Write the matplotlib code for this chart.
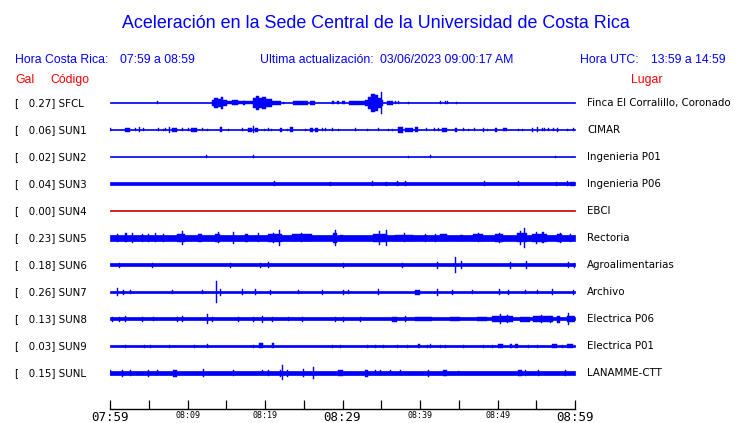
import matplotlib
matplotlib.use("Agg")
import matplotlib.pyplot as plt
import matplotlib.transforms as mtransforms

# station table
codes = ["SFCL", "SUN1", "SUN2", "SUN3", "SUN4", "SUN5",
         "SUN6", "SUN7", "SUN8", "SUN9", "SUNL"]
gal = [0.27, 0.06, 0.02, 0.04, 0.00, 0.23, 0.18, 0.26, 0.13, 0.03, 0.15]
places = ["Finca El Corralillo, Coronado", "CIMAR", "Ingenieria P01",
          "Ingenieria P06", "EBCI", "Rectoria", "Agroalimentarias",
          "Archivo", "Electrica P06", "Electrica P01", "LANAMME-CTT"]

# background noise level of each trace (half width, px-ish units)
base_amp = [0.5, 0.5, 0.5, 1.5, 0.5, 2.8, 1.5, 1.4, 1.5, 0.5, 1.7]

# events: (minute, amp) or (start, end, amp), minutes after 07:59
sfcl = [(6.1, 1.5),
        (13.16, 13.42, 3), (13.42, 13.94, 5), (13.94, 14.32, 4), (14.32, 14.58, 6),
        (14.58, 15.1, 3), (15.1, 18.45, 1.5), (15.74, 16.5, 2.5), (17.16, 17.42, 2),
        (18.45, 18.84, 5), (18.84, 19.23, 7), (19.23, 19.6, 5), (19.6, 20.13, 6),
        (20.13, 20.9, 4), (20.9, 22.06, 2), (22.3, 1),
        (23.6, 24.5, 2), (24.5, 25.5, 2), (25.8, 26.45, 2),
        (28.6, 28.9, 1.5), (29.3, 29.5, 1.5), (29.9, 30.3, 1.5), (30.8, 32.9, 1.7),
        (32.9, 33.3, 3), (33.3, 33.7, 6), (33.7, 34.2, 9), (34.2, 34.6, 8),
        (34.6, 35.0, 5), (35.0, 11), (35.0, 35.2, 3),
        (35.7, 36.5, 2), (36.8, 1.5), (37.2, 1.5), (38.45, 1),
        (42.6, 1.5), (43.2, 1.5), (43.5, 1.5), (44.6, 1)]
sun1 = [(0.0, 1.5), (1.94, 2.58, 2), (3.2, 1.5), (3.74, 2.5), (4.26, 1.5),
        (6.2, 1.5), (6.84, 1), (7.1, 1.5), (7.6, 3), (8.0, 8.65, 2), (9.3, 1.5),
        (10.06, 1.5), (10.45, 11.2, 2), (11.87, 1.5), (12.5, 1), (14.2, 14.45, 2.5),
        (15.2, 1), (17.0, 1.5), (17.8, 18.3, 2), (18.45, 3.5), (18.7, 19.1, 2),
        (19.87, 1), (20.4, 1.5), (20.8, 1), (21.9, 22.2, 2), (22.8, 1),
        (23.2, 23.6, 2.5), (25.2, 1), (25.8, 26.2, 2), (26.45, 26.84, 2),
        (27.35, 1.5), (27.7, 1.5), (28.65, 1.5), (29.4, 1), (31.6, 1.5),
        (33.2, 1), (34.6, 1.5), (35.9, 1), (36.4, 1), (37.2, 37.8, 3),
        (38.06, 39.1, 2), (39.35, 39.74, 2.5), (40.8, 1.5), (41.8, 1.5),
        (42.3, 1.5), (42.8, 43.5, 2), (44.5, 44.8, 2), (45.5, 1.5), (46.2, 1),
        (47.0, 1.5), (48.1, 2), (48.65, 1), (49.7, 49.9, 2), (50.7, 51.2, 1.5),
        (52.6, 1), (53.2, 1), (54.45, 54.6, 2), (55.1, 2.5), (55.7, 1.5),
        (56.0, 1.5), (56.5, 1.5), (57.2, 1.5), (57.7, 2), (59.0, 1), (59.7, 1.5)]
sun2 = [(12.4, 1.5), (18.45, 1.5), (38.45, 1), (41.3, 1.5), (57.4, 1)]
sun3 = [(21.2, 2.5), (28.4, 2), (33.8, 2.5), (35.6, 2), (37.0, 2.5), (38.06, 2.5),
        (48.3, 2.5), (52.65, 2.5), (57.5, 2), (59.0, 2.5), (59.4, 60.0, 2)]
sun4 = []
sun5 = [(0.9, 4), (1.9, 2.2, 4.5), (2.84, 5), (4.1, 4), (4.9, 4), (5.8, 4.5),
        (6.84, 4), (8.65, 9.7, 4), (9.3, 7), (11.35, 11.9, 3.8), (13.55, 14.2, 4),
        (13.9, 5.5), (15.87, 6), (17.4, 17.8, 4), (19.1, 4.5), (20.4, 22.2, 3.8),
        (21.0, 5), (21.8, 8), (23.5, 26.1, 3.5), (24.6, 4.5), (28.8, 29.3, 5),
        (29.0, 8), (29.7, 30.1, 3.3), (33.9, 35.7, 4), (34.7, 7), (35.6, 8),
        (36.8, 39.1, 3.3), (37.9, 4.5), (40.6, 4), (41.9, 4), (42.6, 43.5, 3.5),
        (45.2, 45.5, 3.3), (46.8, 48.1, 3.5), (47.5, 4.5), (49.7, 50.7, 4),
        (50.2, 5), (52.5, 53.8, 4.5), (52.9, 7), (53.4, 10),
        (54.45, 56.4, 4), (55.0, 6), (55.8, 5.5), (57.7, 58.3, 4), (58.0, 5),
        (59.35, 4)]
sun6 = [(1.16, 2.5), (5.4, 2.5), (15.5, 2.5), (19.35, 2.5), (20.4, 3),
        (30.06, 2.5), (37.7, 2.5), (42.2, 3.5), (44.5, 8), (45.3, 4),
        (51.6, 3.5), (53.7, 4), (59.1, 3), (59.9, 2.5)]
sun7 = [(0.9, 4), (1.7, 2.5), (2.6, 2), (8.0, 2), (11.9, 2), (13.7, 11),
        (14.2, 3.5), (17.0, 3), (18.7, 3), (20.6, 2.5), (24.3, 2), (27.35, 2.5),
        (30.06, 2.5), (30.7, 2), (34.6, 3), (39.35, 40.0, 2.5), (42.2, 3.5),
        (44.1, 2.5), (46.7, 2), (50.2, 3), (51.35, 2.5), (53.5, 2), (55.1, 2),
        (57.0, 3), (59.7, 2.5)]
sun8 = [(0.26, 2.5), (1.16, 2.5), (1.94, 3), (4.1, 2.5), (5.5, 2), (8.65, 2.5),
        (9.3, 3), (12.5, 5), (13.2, 2.5), (16.5, 2.5), (18.45, 2.5), (19.6, 3.5),
        (20.9, 2.5), (23.0, 2), (24.8, 2.5), (29.0, 2.5), (30.06, 2.5),
        (32.3, 2.5), (36.4, 37.0, 2.5), (38.06, 3), (39.35, 41.5, 2),
        (43.9, 45.2, 2), (47.35, 48.65, 2), (49.3, 52.0, 2.8), (50.3, 5),
        (51.2, 4), (52.9, 54.2, 2.5), (54.6, 57.2, 2.8), (55.6, 4), (56.8, 3.5),
        (57.7, 58.1, 3.5), (59.0, 60.0, 3.3), (59.1, 6)]
sun9 = [(1.94, 1.5), (4.4, 1.5), (5.2, 1.5), (7.6, 1.5), (10.8, 1.5),
        (12.5, 12.7, 2), (18.45, 1.5), (19.2, 19.75, 2.5), (20.9, 21.1, 2.5),
        (28.65, 1.5), (29.7, 1.5), (33.2, 1.5), (34.2, 1.5), (35.2, 1.5),
        (37.0, 1.5), (38.3, 1.5), (39.7, 40.0, 2), (40.9, 1.5), (41.3, 2),
        (42.6, 1.5), (43.2, 1.5), (45.5, 1.5), (48.1, 1.5), (49.3, 1.5),
        (50.1, 50.7, 2), (51.6, 51.9, 2), (52.3, 52.65, 2), (53.9, 1.5),
        (55.1, 1.5), (57.0, 57.7, 2), (58.3, 1.5), (59.0, 59.7, 2)]
sunl = [(0.0, 2.5), (1.55, 3.5), (2.6, 3), (4.9, 3.5), (6.06, 2.5),
        (8.1, 8.65, 3.5), (12.0, 4), (15.87, 3), (19.6, 2.5), (20.4, 3),
        (21.9, 3.5), (22.2, 7.5), (22.8, 3.5), (24.9, 4), (26.2, 6),
        (29.4, 30.06, 3), (32.9, 33.3, 3.5), (34.2, 2.5), (34.8, 2.5),
        (36.1, 2.5), (37.4, 2.5), (41.0, 3.5), (43.0, 43.5, 3), (44.9, 2),
        (52.6, 53.2, 3), (53.5, 3), (55.2, 3), (58.7, 3)]
events = [sfcl, sun1, sun2, sun3, sun4, sun5, sun6, sun7, sun8, sun9, sunl]

tick_minutes = list(range(0, 61, 5))
big_labels = {0: "07:59", 30: "08:29", 60: "08:59"}
small_labels = {10: "08:09", 20: "08:19", 40: "08:39", 50: "08:49"}

W, H = 740, 423
ROW = 27.0        # px between traces
SPIKE = 0.15      # width of a single spike, minutes
BLUE = "#0000ff"

fig = plt.figure(figsize=(W / 100, H / 100), dpi=100)
fig.patch.set_facecolor("white")

ax = fig.add_axes([110 / W, 14 / H, 465 / W, 319 / H])
ax.set_xlim(0, 60)
ax.set_ylim((409 - 103) / ROW, (90 - 103) / ROW)

for i, code in enumerate(codes):
    col = "#cc0000" if gal[i] == 0 else BLUE
    b = base_amp[i] / ROW
    ax.fill_between([0, 60], i - b, i + b, color=col, linewidth=0.5)
    for ev in events[i]:
        if len(ev) == 2:
            t0, a = ev
            w = SPIKE
        else:
            t0, t1, a = ev
            w = t1 - t0
        ax.bar(t0, 2 * a / ROW, width=w, bottom=i - a / ROW, align="edge",
               color=col, edgecolor=col, linewidth=0.3)

ax.set_yticks([])
for s in ["top", "left", "right"]:
    ax.spines[s].set_visible(False)
ax.spines["bottom"].set_linewidth(1.0)
ax.set_xticks(tick_minutes)
ax.set_xticklabels([big_labels.get(m, small_labels.get(m, "")) for m in tick_minutes])
ax.tick_params(axis="x", direction="in", length=6.5, width=0.9, pad=1.5)
for m, lab in zip(tick_minutes, ax.get_xticklabels()):
    lab.set_family("DejaVu Sans Mono")
    lab.set_fontsize(9.0 if m in big_labels else 6.0)

# left and right labels, x in figure px, y on the trace rows
tr = mtransforms.blended_transform_factory(fig.transFigure, ax.transData)
for i, code in enumerate(codes):
    ax.text(15 / W, i, "[   %.2f] %s" % (gal[i], code), transform=tr,
            fontsize=7.4, family="DejaVu Sans", va="center", ha="left")
    ax.text(587 / W, i, places[i], transform=tr,
            fontsize=7.4, family="DejaVu Sans", va="center", ha="left")

hdr = dict(family="Liberation Sans", fontsize=8.8, va="center", ha="left")
fig.text(376 / W, 1 - 23 / H, "Aceleración en la Sede Central de la Universidad de Costa Rica",
         family="Liberation Sans", fontsize=12.9, color=BLUE, ha="center", va="center")
fig.text(15 / W, 1 - 60 / H, "Hora Costa Rica:", color=BLUE, **hdr)
fig.text(120 / W, 1 - 60 / H, "07:59 a 08:59", color=BLUE, **hdr)
fig.text(260 / W, 1 - 60 / H, "Ultima actualización:", color=BLUE, **hdr)
fig.text(380 / W, 1 - 60 / H, "03/06/2023 09:00:17 AM", color=BLUE, **hdr)
fig.text(580 / W, 1 - 60 / H, "Hora UTC:", color=BLUE, **hdr)
fig.text(651 / W, 1 - 60 / H, "13:59 a 14:59", color=BLUE, **hdr)
fig.text(15 / W, 1 - 80 / H, "Gal", color="red", **hdr)
fig.text(50 / W, 1 - 80 / H, "Código", color="red", **hdr)
fig.text(631 / W, 1 - 80 / H, "Lugar", color="red", **hdr)

fig.savefig("out.png", dpi=100, facecolor="white")
